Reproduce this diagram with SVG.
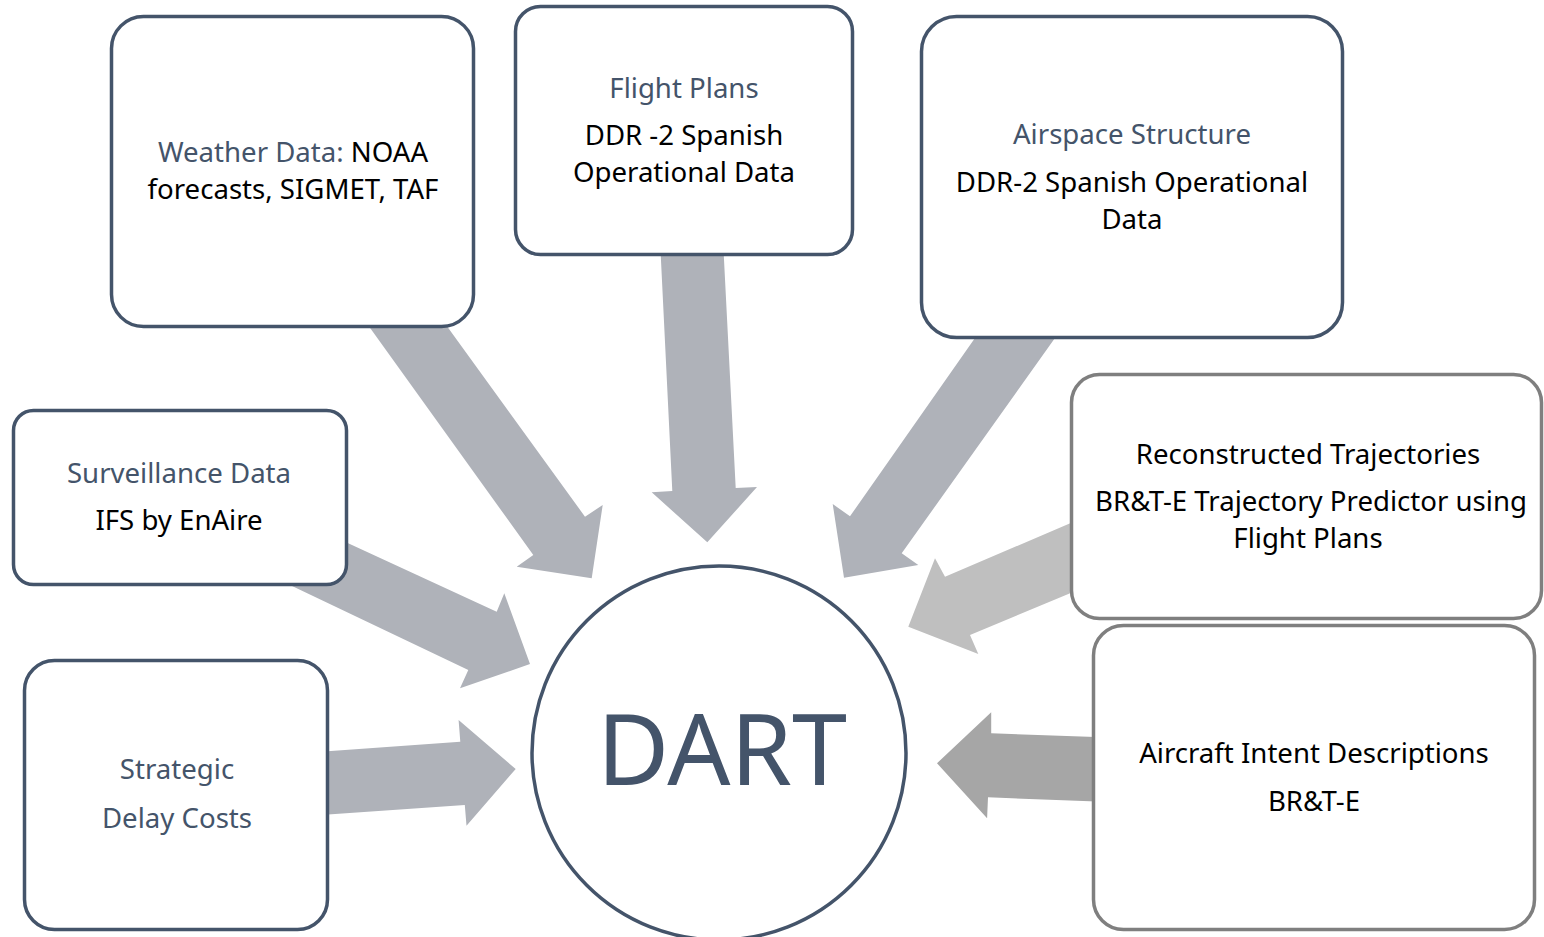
<svg xmlns="http://www.w3.org/2000/svg" width="1544" height="937" viewBox="0 0 1544 937">
<style>
  .box { fill: #ffffff; stroke: #44546A; stroke-width: 3.5; }
  .gbox { fill: #ffffff; stroke: #7F7F7F; stroke-width: 3.5; }
  .arr { fill: #AFB2B9; stroke: none; }
  .arr2 { fill: #BFBFBF; stroke: none; }
  .arr3 { fill: #A6A6A6; stroke: none; }
  text { font-family: "Noto Sans", "Open Sans", sans-serif; font-size: 27.6px; text-anchor: middle; fill: #000000; }
  .t { fill: #44546A; }
  .big { font-size: 99px; fill: #44546A; }
</style>
<rect width="1544" height="937" fill="#ffffff"/>
<g id="connectors">
  <polygon class="arr" points="350,300 428,300 585,516.7 602.7,505 591.7,578.3 516.7,566.7 533.3,555"/>
  <polygon class="arr" points="660,240 723,240 735.7,488 757,487 707.3,542.3 651.7,492.3 672.3,491"/>
  <polygon class="arr" points="987.6,320 1067.8,320 901.7,553.3 918.3,565 844,577.7 832.7,504 850,516.3"/>
  <polygon class="arr" points="320,530.3 496.7,611.7 504.3,593.3 530,664 460,688.3 468.3,670 270,575.6"/>
  <polygon class="arr" points="310,752.5 460.3,741.7 458.6,720 515.7,769 466.5,825.7 464.8,805 310,815.7"/>
  <polygon class="arr2" points="1090,514.8 945,576.7 935,558.3 908.3,626.7 978.3,654 970,635 1090,585"/>
  <polygon class="arr3" points="1110,737.5 991.2,733.3 991.2,712.3 937,763.3 987.1,818.3 988,797.3 1110,802"/>
</g>
<g id="weather">
  <rect class="box" x="111.5" y="16.5" width="362" height="310" rx="32"/>
  <text x="293" y="162"><tspan class="t">Weather Data:</tspan> NOAA</text>
  <text x="293" y="198.5">forecasts, SIGMET, TAF</text>
</g>
<g id="flightplans">
  <rect class="box" x="515.5" y="6.5" width="337" height="248" rx="25"/>
  <text class="t" x="684" y="98">Flight Plans</text>
  <text x="684" y="145">DDR -2 Spanish</text>
  <text x="684" y="181.5">Operational Data</text>
</g>
<g id="airspace">
  <rect class="box" x="921.5" y="16.5" width="421" height="321" rx="35"/>
  <text class="t" x="1132" y="144">Airspace Structure</text>
  <text x="1132" y="192">DDR-2 Spanish Operational</text>
  <text x="1132" y="228.5">Data</text>
</g>
<g id="surveillance">
  <rect class="box" x="13.5" y="410.5" width="333" height="174" rx="20"/>
  <text class="t" x="179" y="483">Surveillance Data</text>
  <text x="179" y="530">IFS by EnAire</text>
</g>
<g id="strategic">
  <rect class="box" x="24.5" y="660.5" width="303" height="269" rx="30"/>
  <text class="t" x="177" y="779">Strategic</text>
  <text class="t" x="177" y="828">Delay Costs</text>
</g>
<g id="reconstructed">
  <rect class="gbox" x="1071.5" y="374.5" width="470" height="244" rx="28"/>
  <text x="1308" y="464">Reconstructed Trajectories</text>
  <text x="1311" y="511">BR&amp;T-E Trajectory Predictor using</text>
  <text x="1308" y="548">Flight Plans</text>
</g>
<g id="aircraftintent">
  <rect class="gbox" x="1093.5" y="625.5" width="441" height="304" rx="30"/>
  <text x="1314" y="763">Aircraft Intent Descriptions</text>
  <text x="1314" y="811">BR&amp;T-E</text>
</g>
<g id="dart">
  <circle cx="719" cy="753" r="187" fill="#ffffff" stroke="#44546A" stroke-width="3.5"/>
  <text class="big" x="722" y="785">DART</text>
</g>
</svg>
